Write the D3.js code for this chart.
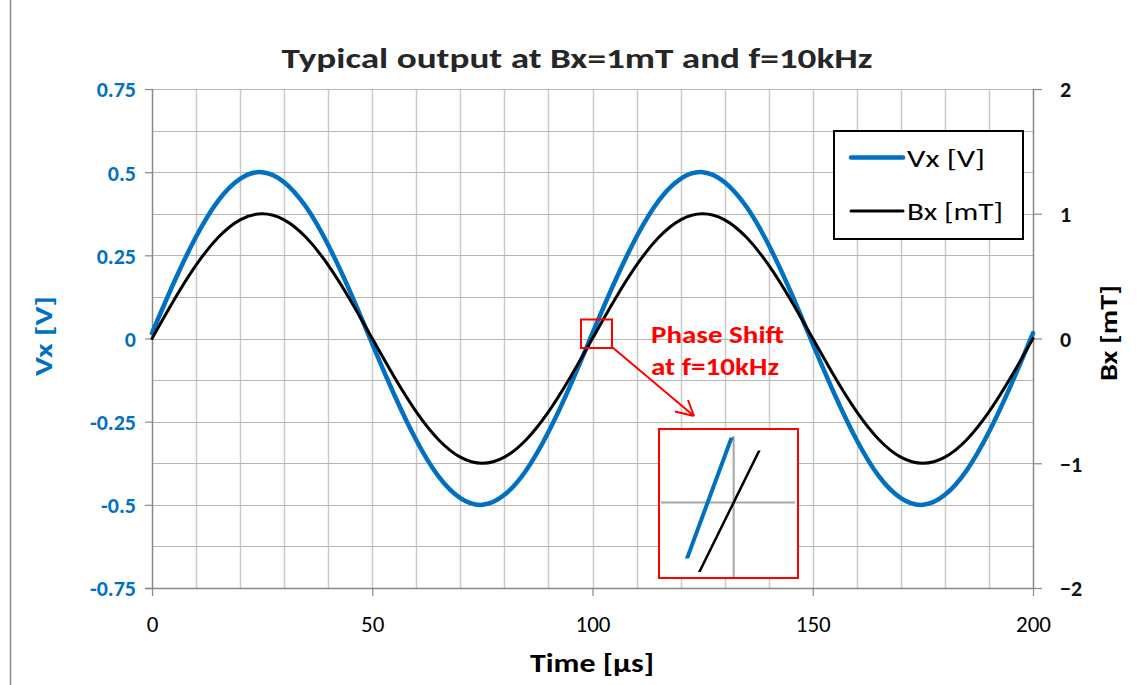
<!DOCTYPE html>
<html>
<head>
<meta charset="utf-8">
<script src="https://cdn.jsdelivr.net/npm/d3@7"></script>
<style>
  html, body { margin: 0; padding: 0; background: #ffffff; }
  svg { display: block; }
  text { font-family: Carlito, "Liberation Sans", Arial, sans-serif; }
</style>
</head>
<body>
<svg id="chart" width="1146" height="685"></svg>
<script>
// ---- data ----
const chartTitle = "Typical output at Bx=1mT and f=10kHz";
const timeUs = [0,5,10,15,20,25,30,35,40,45,50,55,60,65,70,75,80,85,90,95,100,
                105,110,115,120,125,130,135,140,145,150,155,160,165,170,175,180,185,190,195,200];
const vxVolts = [0.016,0.169,0.306,0.414,0.480,0.500,0.470,0.395,0.281,0.140,-0.016,
                 -0.169,-0.306,-0.414,-0.480,-0.500,-0.470,-0.395,-0.281,-0.140,0.016,
                 0.169,0.306,0.414,0.480,0.500,0.470,0.395,0.281,0.140,-0.016,
                 -0.169,-0.306,-0.414,-0.480,-0.500,-0.470,-0.395,-0.281,-0.140,0.016];
const bxMilliT = [0,0.309,0.588,0.809,0.951,1,0.951,0.809,0.588,0.309,0,
                  -0.309,-0.588,-0.809,-0.951,-1,-0.951,-0.809,-0.588,-0.309,0,
                  0.309,0.588,0.809,0.951,1,0.951,0.809,0.588,0.309,0,
                  -0.309,-0.588,-0.809,-0.951,-1,-0.951,-0.809,-0.588,-0.309,0];
const xTicks = [0,50,100,150,200];
const leftTicks = [0.75,0.5,0.25,0,-0.25,-0.5,-0.75];
const leftTickLabels = ["0.75","0.5","0.25","0","-0.25","-0.5","-0.75"];
const rightTicks = [2,1,0,-1,-2];
const seriesNames = ["Vx [V]","Bx [mT]"];
const annotationLines = ["Phase Shift","at f=10kHz"];
// inset (magnified view around t = 100 µs)
const insetTimeDomain = [98.55, 101.25];
const insetVoltDomain = [-0.0171, 0.0167];

// ---- layout ----
const W = 1146, H = 685;
const M = {left:152, right:1033, top:89, bottom:588};
const blue = "#0070c0", gridH = "#b5b5b5", gridV = "#cacaca", axisCol = "#898989", red = "#ff0000";

const svg = d3.select("#chart");
svg.append("rect").attr("width",W).attr("height",H).attr("fill","#fff");
// outer chart border (left edge visible)
svg.append("line").attr("x1",10.5).attr("x2",10.5).attr("y1",0).attr("y2",H)
   .attr("stroke","#8c8c8c").attr("stroke-width",1.5);

const x = d3.scaleLinear().domain([0,200]).range([M.left,M.right]);
const yL = d3.scaleLinear().domain([-0.75,0.75]).range([M.bottom,M.top]);
const yR = d3.scaleLinear().domain([-2,2]).range([M.bottom,M.top]);

// gridlines
const g = svg.append("g");
g.selectAll(".vg").data(d3.range(10,200,10)).join("line")
  .attr("x1",d=>Math.round(x(d))+0.5).attr("x2",d=>Math.round(x(d))+0.5)
  .attr("y1",M.top).attr("y2",M.bottom).attr("stroke",gridV).attr("stroke-width",1.5);
g.selectAll(".hg").data(d3.range(-5,7).map(i=>i*0.125)).join("line")
  .attr("x1",M.left).attr("x2",M.right)
  .attr("y1",d=>Math.round(yL(d))+0.5).attr("y2",d=>Math.round(yL(d))+0.5)
  .attr("stroke",gridH).attr("stroke-width",1.2);
g.append("line").attr("x1",M.left).attr("x2",M.right).attr("y1",M.top+0.5).attr("y2",M.top+0.5)
  .attr("stroke",gridH).attr("stroke-width",1.2);

// axes
const xAxis = d3.axisBottom(x).tickValues(xTicks).tickSize(8).tickFormat(d3.format("d"));
const ax = svg.append("g").attr("transform",`translate(0,${M.bottom})`).call(xAxis);
ax.select(".domain").attr("stroke",axisCol).attr("stroke-width",1.5).attr("d",`M${M.left-7},0.5H${M.right+1}`);
ax.selectAll(".tick line").attr("stroke",axisCol).attr("stroke-width",1.2);
ax.selectAll(".tick text").attr("font-size",23).attr("fill","#000").attr("dy",0).attr("y",44)
  .attr("font-family",'Carlito, "Liberation Sans", Arial, sans-serif');

const yAxisL = d3.axisLeft(yL).tickValues(leftTicks).tickSize(7).tickFormat((d,i)=>leftTickLabels[i]);
const al = svg.append("g").attr("transform",`translate(${M.left},0)`).call(yAxisL);
al.select(".domain").attr("stroke",axisCol).attr("stroke-width",1.5).attr("d",`M0.5,${M.top}V${M.bottom+1}`);
al.selectAll(".tick line").attr("stroke",axisCol).attr("stroke-width",1.2);
al.selectAll(".tick text").attr("font-size",22).attr("font-weight","bold").attr("fill",blue)
  .attr("x",-16).attr("dy","0.36em").attr("font-family",'Carlito, "Liberation Sans", Arial, sans-serif');

const yAxisR = d3.axisRight(yR).tickValues(rightTicks).tickSize(9).tickFormat(d3.format("d"));
const ar = svg.append("g").attr("transform",`translate(${M.right},0)`).call(yAxisR);
ar.select(".domain").attr("stroke",axisCol).attr("stroke-width",1.5).attr("d",`M0.5,${M.top}V${M.bottom+1}`);
ar.selectAll(".tick line").attr("stroke",axisCol).attr("stroke-width",1.2);
ar.selectAll(".tick text").attr("font-size",22).attr("font-weight","bold").attr("fill","#111")
  .attr("x",27).attr("dy","0.36em").attr("font-family",'Carlito, "Liberation Sans", Arial, sans-serif');

// series
const idx = d3.range(timeUs.length);
const lineV = d3.line().x(i=>x(timeUs[i])).y(i=>yL(vxVolts[i])).curve(d3.curveNatural);
const lineB = d3.line().x(i=>x(timeUs[i])).y(i=>yR(bxMilliT[i])).curve(d3.curveNatural);
svg.append("path").attr("d",lineV(idx)).attr("fill","none").attr("stroke",blue)
  .attr("stroke-width",4.5).attr("stroke-linecap","round");
svg.append("path").attr("d",lineB(idx)).attr("fill","none").attr("stroke","#000")
  .attr("stroke-width",3).attr("stroke-linecap","round");

// titles
svg.append("text").attr("x",577).attr("y",68).attr("text-anchor","middle")
  .attr("font-size",28).attr("font-weight","bold").attr("fill","#262626")
  .attr("textLength",591).attr("lengthAdjust","spacingAndGlyphs").text(chartTitle);
svg.append("text").attr("x",592).attr("y",672).attr("text-anchor","middle")
  .attr("font-size",26).attr("font-weight","bold").attr("fill","#000")
  .attr("textLength",124).attr("lengthAdjust","spacingAndGlyphs").text("Time [µs]");
svg.append("text").attr("transform","translate(52,336) rotate(-90)").attr("text-anchor","middle")
  .attr("font-size",25).attr("font-weight","bold").attr("fill",blue)
  .attr("textLength",80).attr("lengthAdjust","spacingAndGlyphs").text("Vx [V]");
svg.append("text").attr("transform","translate(1117,333) rotate(-90)").attr("text-anchor","middle")
  .attr("font-size",25).attr("font-weight","bold").attr("fill","#000")
  .attr("textLength",96).attr("lengthAdjust","spacingAndGlyphs").text("Bx [mT]");

// legend
const lg = svg.append("g");
lg.append("rect").attr("x",834).attr("y",131).attr("width",189).attr("height",108)
  .attr("fill","#fff").attr("stroke","#000").attr("stroke-width",2);
[[blue,4.5,157.5],["#000",3,211]].forEach((s,i)=>{
  lg.append("line").attr("x1",851).attr("x2",903).attr("y1",s[2]).attr("y2",s[2])
    .attr("stroke",s[0]).attr("stroke-width",s[1]).attr("stroke-linecap","round");
  lg.append("text").attr("x",907).attr("y",s[2]+9).attr("font-size",25).attr("fill","#000")
    .attr("textLength",i===0?78:96).attr("lengthAdjust","spacingAndGlyphs").text(seriesNames[i]);
});

// annotation: small box, arrow, label
svg.append("rect").attr("x",581).attr("y",319.5).attr("width",31).attr("height",28.5)
  .attr("fill","none").attr("stroke",red).attr("stroke-width",2);
svg.append("path").attr("d","M612,347L694,416M675,411.5L694,416M688,400L694,416")
  .attr("fill","none").attr("stroke",red).attr("stroke-width",2);
annotationLines.forEach((t,i)=>{
  svg.append("text").attr("x",651).attr("y",343+i*32).attr("font-size",25).attr("font-weight","bold")
    .attr("fill",red).attr("textLength",i===0?133:128).attr("lengthAdjust","spacingAndGlyphs").text(t);
});

// inset magnified view
const ix = d3.scaleLinear().domain(insetTimeDomain).range([659,798]);
const iyV = d3.scaleLinear().domain(insetVoltDomain).range([577.7,429]);
const ratio = 0.75/2; // Bx mT -> same pixel space as V (right axis / left axis)
const ins = svg.append("g");
ins.append("rect").attr("x",659).attr("y",429).attr("width",139).attr("height",149)
  .attr("fill","#fff").attr("stroke","none");
ins.append("line").attr("x1",661).attr("x2",795).attr("y1",iyV(0)).attr("y2",iyV(0))
  .attr("stroke","#a6a6a6").attr("stroke-width",2);
ins.append("line").attr("x1",ix(100)).attr("x2",ix(100)).attr("y1",436).attr("y2",577)
  .attr("stroke","#a6a6a6").attr("stroke-width",2);
const defs = svg.append("defs");
defs.append("clipPath").attr("id","clipV").append("rect").attr("x",659).attr("y",437.5).attr("width",139).attr("height",121);
defs.append("clipPath").attr("id","clipB").append("rect").attr("x",659).attr("y",450.5).attr("width",139).attr("height",121.5);
const iLineV = d3.line().x(i=>ix(timeUs[i])).y(i=>iyV(vxVolts[i])).curve(d3.curveNatural);
const iLineB = d3.line().x(i=>ix(timeUs[i])).y(i=>iyV(bxMilliT[i]*ratio)).curve(d3.curveNatural);
const near = idx.filter(i=>timeUs[i]>=90 && timeUs[i]<=110);
ins.append("path").attr("d",iLineV(near)).attr("clip-path","url(#clipV)")
  .attr("fill","none").attr("stroke",blue).attr("stroke-width",4);
ins.append("path").attr("d",iLineB(near)).attr("clip-path","url(#clipB)")
  .attr("fill","none").attr("stroke","#000").attr("stroke-width",2.5);
ins.append("rect").attr("x",659).attr("y",429).attr("width",139).attr("height",149)
  .attr("fill","none").attr("stroke",red).attr("stroke-width",2);
</script>
</body>
</html>
